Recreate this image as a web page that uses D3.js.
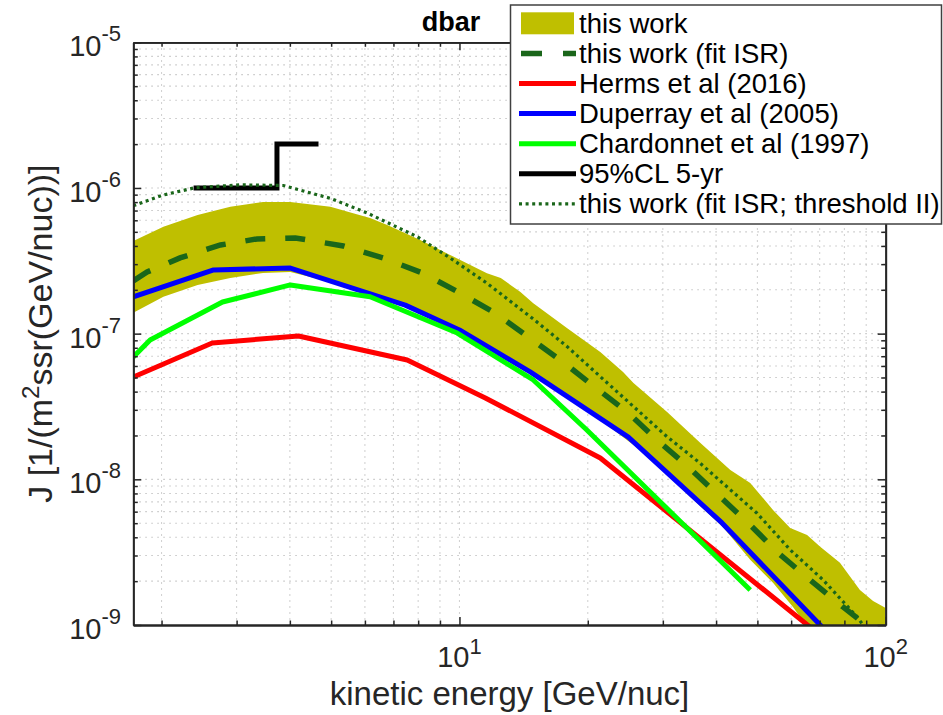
<!DOCTYPE html>
<html><head><meta charset="utf-8">
<script src="https://cdn.jsdelivr.net/npm/d3@7/dist/d3.min.js"></script>
<style>
html,body{margin:0;padding:0;background:#fff;}
svg{display:block;font-family:"Liberation Sans",Arial,Helvetica,sans-serif;}
</style></head><body>
<svg id="chart" width="943" height="715"></svg>
<script>
// ---- axis domains & tick labels ----
const xDomain = [1.717, 100];
const yDomain = [1e-9, 1e-5];
const xMajorTicks = [10, 100];
const xTickExponents = ["1", "2"];
const yMajorTicks = [1e-9, 1e-8, 1e-7, 1e-6, 1e-5];
const yTickExponents = ["-9", "-8", "-7", "-6", "-5"];

// ---- this work (band) ----
const bandUpperE = [1.717, 2.02, 2.43, 2.90, 3.46, 4.01, 4.98, 5.63, 6.17, 6.77, 8.09, 9.67, 11.6, 12.5, 13.9, 14.9, 17.9, 21.4, 24.2, 25.6, 30.7, 36.7, 43.2, 48.1, 54.4, 59.7, 65.4, 70.2, 78.1, 87.0, 93.4, 100];
const bandUpperJ = [4.33e-7, 5.42e-7, 6.53e-7, 7.44e-7, 8.01e-7, 8.01e-7, 7.44e-7, 6.70e-7, 6.22e-7, 5.57e-7, 4.40e-7, 3.38e-7, 2.60e-7, 2.41e-7, 1.93e-7, 1.62e-7, 1.09e-7, 7.49e-8, 5.46e-8, 4.59e-8, 2.90e-8, 1.78e-8, 1.16e-8, 9.45e-9, 6.17e-9, 4.64e-9, 4.15e-9, 3.44e-9, 2.67e-9, 1.74e-9, 1.46e-9, 1.31e-9];
const bandLowerE = [1.717, 2.02, 2.43, 2.90, 3.46, 4.01, 4.98, 7.46, 10.0, 14.65, 21.4, 24.7, 29.1, 34.8, 41.5, 48.1, 54.4, 60.6, 65.0, 74.0, 100];
const bandLowerJ = [1.39e-7, 1.79e-7, 2.16e-7, 2.41e-7, 2.61e-7, 2.65e-7, 2.26e-7, 1.57e-7, 1.06e-7, 5.46e-8, 2.56e-8, 1.86e-8, 1.30e-8, 7.57e-9, 4.71e-9, 2.80e-9, 1.95e-9, 1.33e-9, 1.00e-9, 6.75e-10, 3.06e-10];

// ---- this work (fit ISR) ----
const fitE = [1.717, 1.85, 2.21, 2.75, 3.35, 4.12, 5.34, 6.62, 8.18, 9.93, 12.1, 14.5, 17.5, 20.6, 24.9, 29.1, 34.4, 40.9, 48.1, 55.9, 66.4, 79.4, 89.9];
const fitJ = [2.30e-7, 2.65e-7, 3.31e-7, 4.06e-7, 4.47e-7, 4.54e-7, 4.00e-7, 3.31e-7, 2.61e-7, 1.93e-7, 1.39e-7, 9.49e-8, 6.39e-8, 4.38e-8, 2.86e-8, 1.86e-8, 1.22e-8, 7.57e-9, 4.86e-9, 3.13e-9, 2.04e-9, 1.33e-9, 1.00e-9];

// ---- Herms et al (2016) ----
const hermsE = [1.717, 2.63, 4.19, 7.54, 11.5, 21.4, 66.4];
const hermsJ = [5.04e-8, 8.63e-8, 9.64e-8, 6.60e-8, 3.62e-8, 1.40e-8, 9.7e-10];

// ---- Duperray et al (2005) ----
const duperrayE = [1.717, 2.65, 4.01, 7.46, 10.0, 14.65, 24.9, 41.3, 70.9];
const duperrayJ = [1.79e-7, 2.74e-7, 2.82e-7, 1.57e-7, 1.06e-7, 5.46e-8, 1.95e-8, 5.02e-9, 9.7e-10];

// ---- Chardonnet et al (1997) ----
const chardonnetE = [1.717, 1.88, 2.78, 4.01, 6.17, 9.88, 14.9, 19.9, 48.1];
const chardonnetJ = [6.92e-8, 9.05e-8, 1.65e-7, 2.16e-7, 1.79e-7, 1.01e-7, 4.81e-8, 2.18e-8, 1.74e-9];

// ---- 95%CL 5-yr ----
const cl95E = [2.378, 3.731, 3.731, 4.670];
const cl95J = [1.0e-6, 1.0e-6, 2.0e-6, 2.0e-6];

// ---- this work (fit ISR; threshold II) ----
const thrE = [1.717, 2.02, 2.40, 3.06, 3.86, 4.98, 6.07, 7.96, 9.67, 11.6, 14.9, 17.9, 21.4, 25.6, 30.7, 36.7, 41.5, 49.9, 59.7, 71.3, 85.6, 88.5];
const thrJ = [7.56e-7, 8.95e-7, 1.005e-6, 1.05e-6, 1.04e-6, 8.49e-7, 6.74e-7, 4.63e-7, 3.20e-7, 2.22e-7, 1.26e-7, 8.14e-8, 5.07e-8, 3.16e-8, 1.96e-8, 1.29e-8, 9.40e-9, 5.85e-9, 3.28e-9, 2.04e-9, 1.14e-9, 1.00e-9];

const legendLabels = ["this work", "this work (fit ISR)", "Herms et al (2016)", "Duperray et al (2005)", "Chardonnet et al (1997)", "95%CL 5-yr", "this work (fit ISR; threshold II)"];

// ---- styles ----
const C = {band:"#bfbf00", fit:"#1a661a", red:"#ff0000", blue:"#0000ff", green:"#00ff00", black:"#000000", axis:"#262626"};

const M = {left:133.3, right:885.7, top:42.3, bottom:625};
const svg = d3.select("#chart");
const x = d3.scaleLog().domain(xDomain).range([M.left, M.right]);
const y = d3.scaleLog().domain(yDomain).range([M.bottom, M.top]);

const zip = (a, b) => a.map((v, i) => [v, b[i]]);
const line = d3.line().x(d => x(d[0])).y(d => y(d[1]));

// minor tick values
function logSubTicks(lo, hi) {
  const out = [];
  for (let d = Math.floor(Math.log10(lo)); d <= Math.ceil(Math.log10(hi)); d++) {
    for (let k = 1; k <= 9; k++) {
      const v = k * Math.pow(10, d);
      if (v >= lo * 1.0001 && v <= hi * 0.9999) out.push(v);
    }
  }
  return out;
}
const xGrid = logSubTicks(xDomain[0], xDomain[1]);
const yGrid = logSubTicks(yDomain[0], yDomain[1]);
const xMinor = xGrid.filter(v => !xMajorTicks.includes(v));
const yMinor = yGrid.filter(v => !yMajorTicks.some(t => Math.abs(t - v) / t < 1e-6));

svg.append("defs").append("clipPath").attr("id", "clip")
  .append("rect").attr("x", M.left).attr("y", M.top)
  .attr("width", M.right - M.left).attr("height", M.bottom - M.top);

// grid
const grid = svg.append("g").attr("stroke", "#c4c4c4").attr("stroke-width", 1.1).attr("stroke-dasharray", "1.5,4.5");
grid.selectAll(".gx").data(xGrid).join("line")
  .attr("x1", d => x(d)).attr("x2", d => x(d)).attr("y1", M.top).attr("y2", M.bottom);
grid.selectAll(".gy").data(yGrid).join("line")
  .attr("y1", d => y(d)).attr("y2", d => y(d)).attr("x1", M.left).attr("x2", M.right);

const plot = svg.append("g").attr("clip-path", "url(#clip)");

// band
const bandPts = zip(bandUpperE, bandUpperJ).concat(zip(bandLowerE, bandLowerJ).reverse());
plot.append("path").attr("d", line(bandPts) + "Z").attr("fill", C.band).attr("stroke", "none");

// fit ISR dashed
plot.append("path").attr("d", line(zip(fitE, fitJ))).attr("fill", "none")
  .attr("stroke", C.fit).attr("stroke-width", 5.5).attr("stroke-dasharray", "20,20");

// solid references
[[hermsE, hermsJ, C.red], [duperrayE, duperrayJ, C.blue], [chardonnetE, chardonnetJ, C.green]].forEach(([e, j, c]) => {
  plot.append("path").attr("d", line(zip(e, j))).attr("fill", "none")
    .attr("stroke", c).attr("stroke-width", 5).attr("stroke-linejoin", "round");
});

// 95% CL step
plot.append("path").attr("d", line(zip(cl95E, cl95J))).attr("fill", "none")
  .attr("stroke", C.black).attr("stroke-width", 5);

// threshold II dotted
plot.append("path").attr("d", line(zip(thrE, thrJ))).attr("fill", "none")
  .attr("stroke", C.fit).attr("stroke-width", 3.2).attr("stroke-dasharray", "3,3.6");

// axes (ticks inward on all four sides)
function styleAxis(g) {
  g.selectAll("path").attr("stroke", C.axis).attr("stroke-width", 1.8);
  g.selectAll("line").attr("stroke", C.axis).attr("stroke-width", 1.5);
  g.selectAll("text").remove();
}
const axes = svg.append("g");
axes.append("g").attr("transform", `translate(0,${M.bottom})`)
  .call(d3.axisBottom(x).tickValues(xMajorTicks).tickSize(-8).tickSizeOuter(0)).call(styleAxis);
axes.append("g").attr("transform", `translate(0,${M.bottom})`)
  .call(d3.axisBottom(x).tickValues(xMinor).tickSize(-4.5).tickSizeOuter(0)).call(styleAxis);
axes.append("g").attr("transform", `translate(0,${M.top})`)
  .call(d3.axisTop(x).tickValues(xMajorTicks).tickSize(-8).tickSizeOuter(0)).call(styleAxis);
axes.append("g").attr("transform", `translate(0,${M.top})`)
  .call(d3.axisTop(x).tickValues(xMinor).tickSize(-4.5).tickSizeOuter(0)).call(styleAxis);
axes.append("g").attr("transform", `translate(${M.left},0)`)
  .call(d3.axisLeft(y).tickValues(yMajorTicks).tickSize(-8).tickSizeOuter(0)).call(styleAxis);
axes.append("g").attr("transform", `translate(${M.left},0)`)
  .call(d3.axisLeft(y).tickValues(yMinor).tickSize(-4.5).tickSizeOuter(0)).call(styleAxis);
axes.append("g").attr("transform", `translate(${M.right},0)`)
  .call(d3.axisRight(y).tickValues(yMajorTicks).tickSize(-8).tickSizeOuter(0)).call(styleAxis);
axes.append("g").attr("transform", `translate(${M.right},0)`)
  .call(d3.axisRight(y).tickValues(yMinor).tickSize(-4.5).tickSizeOuter(0)).call(styleAxis);

// tick labels
const xl = svg.append("g").attr("fill", C.axis);
xMajorTicks.forEach((v, i) => {
  const t = xl.append("text").attr("x", x(v)).attr("y", 667).attr("text-anchor", "middle").attr("font-size", 29);
  t.append("tspan").text("10");
  t.append("tspan").attr("font-size", 22).attr("dy", -13).text(xTickExponents[i]);
});
yMajorTicks.forEach((v, i) => {
  const t = xl.append("text").attr("x", 121).attr("y", y(v) + 14).attr("text-anchor", "end").attr("font-size", 29);
  t.append("tspan").text("10");
  t.append("tspan").attr("font-size", 22).attr("dy", -15).text(yTickExponents[i]);
});

// axis labels
svg.append("text").attr("x", (M.left + M.right) / 2).attr("y", 705).attr("text-anchor", "middle")
  .attr("font-size", 33).attr("fill", C.axis).text("kinetic energy [GeV/nuc]");
const yl = svg.append("text").attr("transform", `translate(52,${(M.top + M.bottom) / 2}) rotate(-90)`)
  .attr("text-anchor", "middle").attr("font-size", 34).attr("fill", C.axis);
yl.append("tspan").text("J [1/(m");
yl.append("tspan").attr("font-size", 24).attr("dy", -13).text("2");
yl.append("tspan").attr("dy", 13).text("ssr(GeV/nuc))]");

// title
svg.append("text").attr("x", 451).attr("y", 31).attr("text-anchor", "middle")
  .attr("font-size", 27).attr("font-weight", "bold").attr("fill", "#000").text("dbar");

// legend
const lg = svg.append("g");
lg.append("rect").attr("x", 510.5).attr("y", 5).attr("width", 431).attr("height", 219)
  .attr("fill", "#fff").attr("stroke", "#404040").attr("stroke-width", 1.5);
const rowY = i => 23.3 + 30.1 * i;
const lx1 = 519, lx2 = 576;
lg.append("rect").attr("x", 521).attr("y", rowY(0) - 11).attr("width", 53).attr("height", 22).attr("fill", C.band);
const legStyles = [
  null,
  {c: C.fit, w: 5.5, dash: "21,21"},
  {c: C.red, w: 5},
  {c: C.blue, w: 5},
  {c: C.green, w: 5},
  {c: C.black, w: 5},
  {c: C.fit, w: 3.2, dash: "3,3.6"}
];
legStyles.forEach((s, i) => {
  if (!s) return;
  const l = lg.append("line").attr("x1", lx1 + (s.dash && s.w > 4 ? 2 : 0)).attr("x2", lx2)
    .attr("y1", rowY(i)).attr("y2", rowY(i)).attr("stroke", s.c).attr("stroke-width", s.w);
  if (s.dash) l.attr("stroke-dasharray", s.dash);
});
legendLabels.forEach((t, i) => {
  lg.append("text").attr("x", 579).attr("y", rowY(i) + 9.5).attr("font-size", 27.5)
    .attr("fill", "#000").text(t);
});
</script>
</body></html>
